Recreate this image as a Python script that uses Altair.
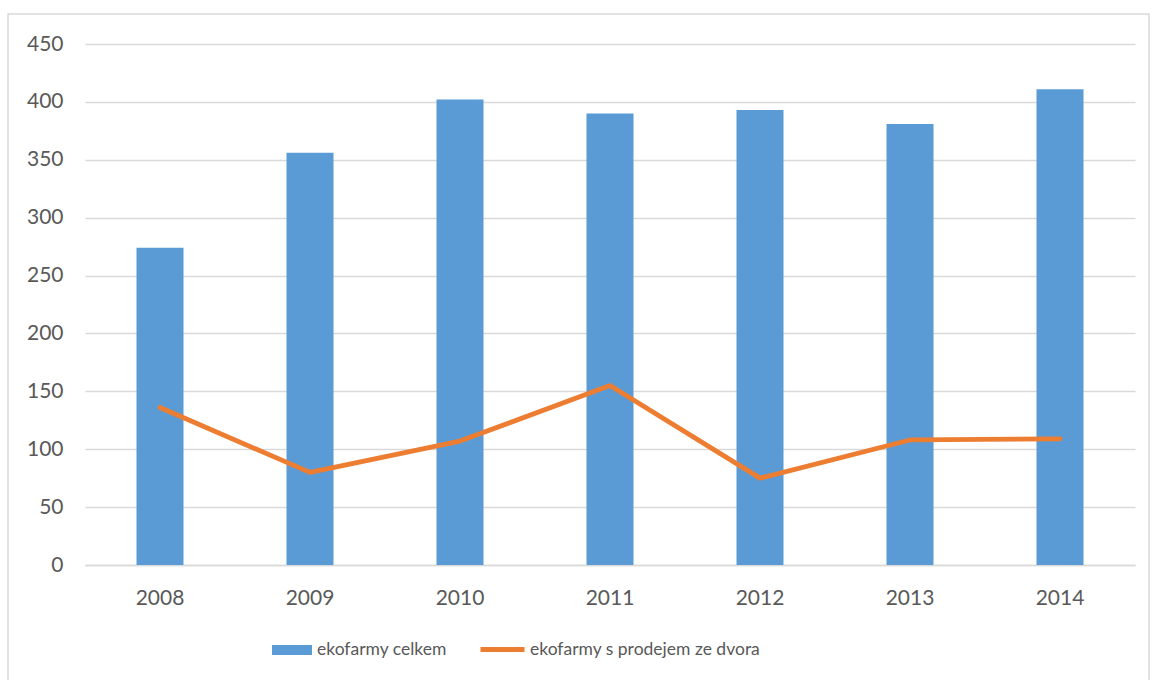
import altair as alt
import pandas as pd

years = ["2008", "2009", "2010", "2011", "2012", "2013", "2014"]
total = [274, 356, 402, 390, 393, 381, 411]
yard = [136, 80, 107, 155, 75, 108, 109]
series_bar = "ekofarmy celkem"
series_line = "ekofarmy s prodejem ze dvora"
y_ticks = [0, 50, 100, 150, 200, 250, 300, 350, 400, 450]

df = pd.DataFrame({"rok": years, "celkem": total, "dvur": yard})

FONT = "Lato"
TXT = "#595959"
GRID = "#D9D9D9"

xscale = alt.Scale(paddingInner=0.687, paddingOuter=0.3435)
yscale = alt.Scale(domain=[0, 450], nice=False)

base = alt.Chart(df)

frame = alt.Chart(pd.DataFrame({"a": [0]})).mark_rect(
    filled=False, stroke=GRID, strokeWidth=1.5
).encode(
    x=alt.value(-77), x2=alt.value(1064), y=alt.value(-30), y2=alt.value(700)
)

bars = base.transform_calculate(s1=f"'{series_bar}'").mark_bar(width=47).encode(
    x=alt.X("rok:N", scale=xscale, title=None,
            axis=alt.Axis(labelAngle=0, ticks=False, domain=True, domainColor=GRID,
                          domainWidth=1.5, labelPadding=22, grid=False)),
    y=alt.Y("celkem:Q", scale=yscale, title=None,
            axis=alt.Axis(values=y_ticks, ticks=False, domain=False, grid=True,
                          gridColor=GRID, gridWidth=1.5, labelPadding=22)),
    fill=alt.Fill("s1:N", scale=alt.Scale(range=["#5B9BD5"]),
                  legend=alt.Legend(title=None, orient="none", legendX=187, legendY=586,
                                    symbolType="M-1,-0.25L1,-0.25L1,0.25L-1,0.25Z",
                                    symbolSize=1600, symbolStrokeWidth=0,
                                    labelOffset=5)),
)

line = base.transform_calculate(s2=f"'{series_line}'").mark_line(
    strokeWidth=4.8, strokeCap="round", strokeJoin="round"
).encode(
    x=alt.X("rok:N", scale=xscale),
    y=alt.Y("dvur:Q", scale=yscale),
    stroke=alt.Stroke("s2:N", scale=alt.Scale(range=["#ED7D31"]),
                      legend=alt.Legend(title=None, orient="none", legendX=393, legendY=581,
                                        symbolType="stroke", symbolSize=1936,
                                        symbolStrokeWidth=4.8, labelOffset=3)),
)

chart = alt.layer(bars, line, frame).resolve_legend(fill="independent", stroke="independent").properties(
    width=1050, height=521,
    padding={"left": 85, "top": 44, "right": 17, "bottom": 115},
    autosize=alt.AutoSizeParams(type="none"),
    background="white",
).configure_view(stroke=None).configure_axis(
    labelFont=FONT, labelFontSize=21, labelColor=TXT
).configure_legend(
    labelFont=FONT, labelFontSize=17.5, labelColor=TXT, padding=0, labelLimit=0
)

chart.save("out.html", embed_options={"renderer": "svg", "actions": False})
